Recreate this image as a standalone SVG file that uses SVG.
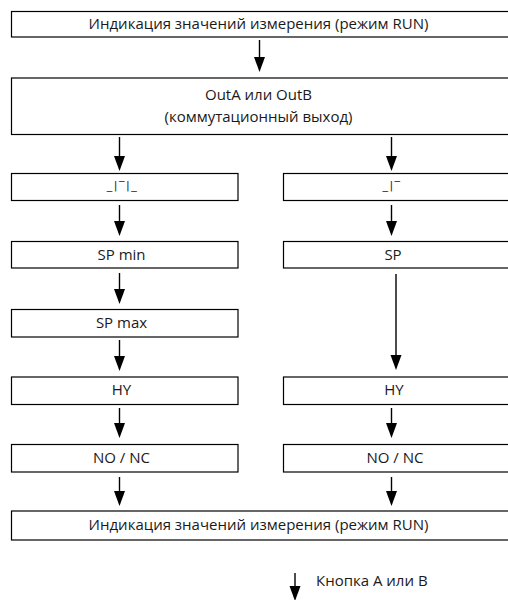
<svg xmlns="http://www.w3.org/2000/svg" width="508" height="600" viewBox="0 0 508 600">
<defs>
<marker id="ah" viewBox="0 -6 16 12" refX="7" refY="0" markerWidth="16" markerHeight="12" markerUnits="userSpaceOnUse" orient="auto">
<path d="M0,-5.5 L15,0 L0,5.5 z" fill="#000"/>
</marker>
</defs>
<style>
.box{fill:#fff;stroke:#000;stroke-width:1.2}
.t{font-family:"Open Sans","DejaVu Sans",sans-serif;font-size:15px;fill:#1a1a1a;text-anchor:middle}
.p{font-family:"DejaVu Sans",sans-serif;font-size:11px;letter-spacing:1.5px;fill:#222;text-anchor:middle}
.c line{stroke:#000;stroke-width:1.4;marker-end:url(#ah)}
</style>
<rect width="508" height="600" fill="#fff"/>
<g id="n-run-top"><rect class="box" x="11.5" y="11.5" width="510" height="25.5"/><text class="t" x="258.5" y="28.5">Индикация значений измерения (режим RUN)</text></g>
<g id="n-out"><rect class="box" x="11.5" y="78" width="510" height="56.5"/><text class="t" x="258.5" y="99.5">OutA или OutB</text><text class="t" x="258.5" y="121.5">(коммутационный выход)</text></g>
<g id="n-window"><rect class="box" x="11.5" y="173.5" width="226.5" height="27"/><text class="p" x="122.5" y="189">_|‾|_</text></g>
<g id="n-hyst"><rect class="box" x="283.5" y="173.5" width="240" height="27"/><text class="p" x="392" y="189">_|‾</text></g>
<g id="n-spmin"><rect class="box" x="11.5" y="241.5" width="226.5" height="26.5"/><text class="t" x="121.5" y="259.5">SP min</text></g>
<g id="n-sp"><rect class="box" x="283.5" y="241.5" width="240" height="26.5"/><text class="t" x="393" y="259.5">SP</text></g>
<g id="n-spmax"><rect class="box" x="11.5" y="309.5" width="226.5" height="27.5"/><text class="t" x="121.5" y="327.5">SP max</text></g>
<g id="n-hy-l"><rect class="box" x="11.5" y="377" width="226.5" height="27.5"/><text class="t" x="121.5" y="395">HY</text></g>
<g id="n-hy-r"><rect class="box" x="283.5" y="377" width="240" height="27.5"/><text class="t" x="394" y="395">HY</text></g>
<g id="n-nonc-l"><rect class="box" x="11.5" y="444.5" width="226.5" height="27.5"/><text class="t" x="121.5" y="462.5">NO / NC</text></g>
<g id="n-nonc-r"><rect class="box" x="283.5" y="444.5" width="240" height="27.5"/><text class="t" x="395" y="462.5">NO / NC</text></g>
<g id="n-run-bottom"><rect class="box" x="11.5" y="511" width="510" height="29"/><text class="t" x="258.5" y="530">Индикация значений измерения (режим RUN)</text></g>
<g id="connectors" class="c">
<line x1="259.5" y1="40" x2="259.5" y2="64"/>
<line x1="119.5" y1="137" x2="119.5" y2="163"/>
<line x1="391.5" y1="137" x2="391.5" y2="163"/>
<line x1="119.5" y1="205" x2="119.5" y2="228"/>
<line x1="391.5" y1="205" x2="391.5" y2="228"/>
<line x1="119.5" y1="273" x2="119.5" y2="296"/>
<line x1="396" y1="274" x2="396" y2="362"/>
<line x1="119.5" y1="340" x2="119.5" y2="363"/>
<line x1="119.5" y1="408" x2="119.5" y2="430"/>
<line x1="391.5" y1="408" x2="391.5" y2="430"/>
<line x1="119.5" y1="477" x2="119.5" y2="498"/>
<line x1="391.5" y1="477" x2="391.5" y2="498"/>
<line x1="295" y1="573" x2="295" y2="593"/>
</g>
<g id="legend"><text x="316" y="585.5" style="font-family:'Open Sans','DejaVu Sans',sans-serif;font-size:15px;fill:#1a1a1a">Кнопка А или В</text></g>
</svg>
